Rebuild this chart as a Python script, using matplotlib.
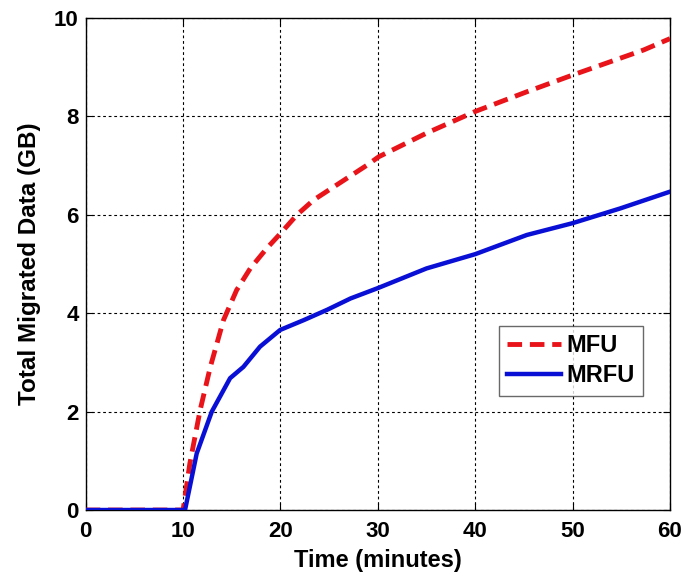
import matplotlib.pyplot as plt

plt.rcParams['font.family'] = ['Liberation Sans', 'DejaVu Sans']
plt.rcParams['font.weight'] = 'bold'

# total migrated data over time, read per policy
mfu_time = [0, 10.0, 10.7, 11.75, 12.8, 14.15, 15.5, 16.9, 18.6, 20.0, 21.7,
            23.4, 25.8, 28.9, 30.1, 35.0, 40.0, 45.3, 50.0, 57.3, 60.0]
mfu_data = [0, 0.0, 0.95, 2.03, 2.91, 3.86, 4.47, 4.91, 5.32, 5.62, 6.0,
            6.30, 6.61, 7.01, 7.18, 7.66, 8.10, 8.50, 8.84, 9.35, 9.58]

mrfu_time = [0, 10.2, 11.4, 12.95, 14.83, 16.2, 17.9, 19.97, 22.4, 24.8,
             27.2, 30.0, 35.0, 40.0, 45.3, 50.0, 54.9, 60.0]
mrfu_data = [0, 0.0, 1.15, 2.0, 2.68, 2.91, 3.32, 3.66, 3.86, 4.07,
             4.30, 4.51, 4.91, 5.20, 5.59, 5.83, 6.13, 6.47]

x_ticks = [0, 10, 20, 30, 40, 50, 60]
y_ticks = [0, 2, 4, 6, 8, 10]

fig = plt.figure(figsize=(6.95, 5.78), dpi=100)
ax = fig.add_axes([0.1233, 0.1176, 0.8407, 0.8513])

ax.plot(mfu_time, mfu_data, color='#e8141a', lw=3.5, linestyle=(0, (3, 1.6)),
        label='MFU', zorder=3)
ax.plot(mrfu_time, mrfu_data, color='#0a0fd6', lw=3.2, label='MRFU', zorder=4)

ax.set_xlim(0, 60)
ax.set_ylim(0, 10)
ax.set_xticks(x_ticks)
ax.set_yticks(y_ticks)
ax.grid(True, color='black', linestyle=(0, (2.5, 2.5)), lw=0.8)
ax.tick_params(direction='in', top=True, right=True, length=5, width=0.8,
               labelsize=16)
ax.tick_params(axis='x', pad=8)
ax.tick_params(axis='y', pad=5)
for s in ax.spines.values():
    s.set_linewidth(1.0)

ax.set_xlabel('Time (minutes)', fontsize=17, fontweight='bold', labelpad=5)
ax.set_ylabel('Total Migrated Data (GB)', fontsize=17.5, fontweight='bold', labelpad=9)

leg = ax.legend(loc='upper left', bbox_to_anchor=(0.707, 0.374), fontsize=17,
                frameon=True, fancybox=False, edgecolor='#444444',
                handlelength=2.3, handletextpad=0.2, borderpad=0.35,
                borderaxespad=0, labelspacing=0.3)
leg.get_frame().set_linewidth(1.0)

fig.savefig('out.png', dpi=100)
